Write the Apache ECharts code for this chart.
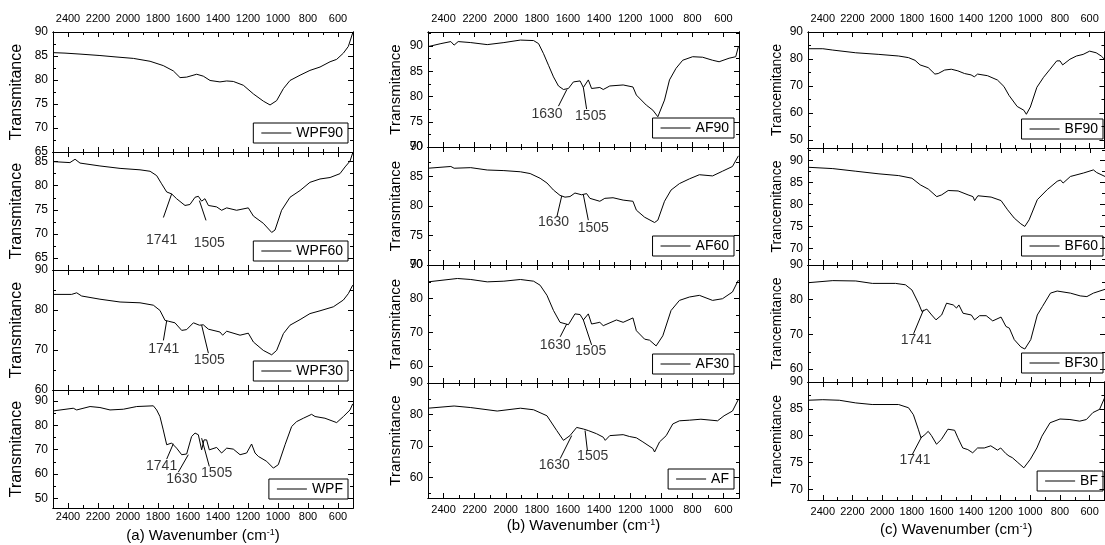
<!DOCTYPE html>
<html>
<head>
<meta charset="utf-8">
<script src="https://cdn.jsdelivr.net/npm/echarts@6/dist/echarts.min.js"></script>
<style>
  html, body { margin: 0; background: #fff; }
  #chart { width: 1105px; height: 545px; }
</style>
</head>
<body>
<div id="chart"></div>
<script>
// wavenumber ticks (cm-1)
const xMajor = [2400, 2200, 2000, 1800, 1600, 1400, 1200, 1000, 800, 600];
const xMinor = [2300, 2100, 1900, 1700, 1500, 1300, 1100, 900, 700];

// spectra: [wavenumber, transmittance]
const wpf90 = [[2500,85.7],[2420,85.6],[2320,85.4],[2187,85.1],[2080,84.8],[1964,84.5],[1853,83.9],[1765,83.0],[1698,81.9],[1653,80.5],[1609,80.6],[1542,81.2],[1498,80.8],[1453,79.9],[1387,79.6],[1376,79.2],[1342,79.8],[1298,79.7],[1231,78.9],[1164,77.1],[1098,75.6],[1053,74.8],[1009,75.7],[964,78.2],[920,79.9],[853,81.0],[787,82.0],[720,82.7],[653,83.8],[609,84.3],[564,85.6],[531,87.0],[502,89.8]];
const wpf60 = [[2500,85.0],[2387,84.8],[2353,85.5],[2320,84.7],[2187,84.1],[2053,83.6],[1920,83.3],[1853,83.0],[1809,82.1],[1776,80.4],[1742,78.7],[1709,78.3],[1676,77.3],[1620,75.9],[1587,76.1],[1553,77.6],[1531,77.8],[1509,76.8],[1487,77.3],[1464,75.9],[1409,75.6],[1376,74.9],[1342,75.4],[1276,74.9],[1198,75.4],[1164,73.7],[1098,72.2],[1042,70.3],[1020,70.8],[976,74.9],[920,77.6],[853,79.0],[787,80.7],[720,81.4],[653,81.7],[587,82.5],[553,83.9],[520,85.1],[502,86.8]];
const wpf30 = [[2500,83.9],[2376,83.9],[2342,84.3],[2309,83.5],[2187,82.7],[2053,82.0],[1920,81.8],[1831,81.2],[1787,79.9],[1753,77.4],[1731,77.2],[1687,76.8],[1642,74.9],[1609,75.1],[1564,76.8],[1524,76.2],[1498,76.3],[1464,75.2],[1387,74.5],[1369,73.7],[1342,74.7],[1253,73.7],[1198,74.2],[1164,72.0],[1098,69.9],[1042,68.8],[1009,69.9],[964,74.1],[920,76.2],[853,77.6],[787,79.1],[720,79.8],[631,80.8],[564,82.5],[531,84.1],[502,86.2]];
const wpf = [[2500,85.9],[2365,87.0],[2342,86.3],[2253,87.7],[2187,87.3],[2120,86.3],[2031,86.6],[1942,87.7],[1831,88.0],[1809,86.3],[1787,83.6],[1765,78.1],[1742,72.0],[1709,72.7],[1676,70.6],[1642,67.9],[1609,68.2],[1576,75.4],[1553,76.8],[1531,76.1],[1509,69.9],[1493,74.0],[1476,74.0],[1458,69.9],[1409,70.9],[1376,68.6],[1342,70.6],[1298,70.2],[1253,67.9],[1209,68.6],[1176,72.3],[1153,68.6],[1131,67.2],[1076,65.2],[1031,62.4],[998,63.8],[953,72.0],[909,79.5],[876,81.5],[831,82.9],[776,84.5],[753,83.6],[687,82.9],[609,81.1],[564,83.6],[520,86.3],[502,88.8]];

const af90 = [[2500,89.9],[2417,90.5],[2353,90.9],[2332,90.2],[2306,90.9],[2225,90.7],[2119,90.3],[2012,90.7],[1906,91.2],[1821,91.1],[1789,90.5],[1757,88.5],[1725,86.2],[1693,83.9],[1661,82.1],[1629,81.4],[1597,81.6],[1565,82.9],[1522,83.1],[1501,81.8],[1469,83.3],[1448,81.6],[1395,81.8],[1373,81.4],[1331,82.1],[1245,82.3],[1182,81.9],[1160,80.3],[1096,78.3],[1054,77.3],[1022,76.0],[979,79.3],[947,83.3],[905,85.6],[862,87.2],[798,87.9],[734,87.8],[670,87.2],[628,86.9],[564,87.6],[521,87.9],[504,89.9]];
const af60 = [[2500,86.4],[2353,86.7],[2332,86.4],[2225,86.5],[2119,86.1],[2012,86.0],[1906,85.8],[1843,85.5],[1779,84.7],[1735,83.9],[1693,82.7],[1651,81.8],[1619,81.5],[1587,81.6],[1555,82.2],[1512,81.9],[1480,82.1],[1459,81.3],[1395,80.8],[1363,81.3],[1310,81.4],[1245,81.0],[1182,80.8],[1160,79.3],[1107,78.1],[1043,77.2],[1022,77.6],[979,80.8],[937,82.7],[883,83.8],[819,84.6],[755,85.3],[670,85.1],[606,85.9],[542,86.7],[504,88.5]];
const af30 = [[2500,85.0],[2311,86.0],[2225,85.7],[2119,85.0],[2012,85.2],[1906,85.7],[1821,85.2],[1779,84.0],[1735,81.0],[1693,76.5],[1651,73.0],[1597,72.3],[1555,75.5],[1522,75.3],[1501,73.7],[1469,75.5],[1448,72.5],[1395,73.0],[1373,72.0],[1288,73.7],[1245,73.0],[1182,74.3],[1160,70.5],[1107,68.0],[1075,67.7],[1033,66.0],[990,69.0],[937,76.5],[883,79.5],[819,80.5],[755,81.0],[670,79.5],[606,80.0],[542,82.0],[504,85.5]];
const af = [[2500,82.0],[2332,82.7],[2225,82.2],[2055,81.1],[1906,82.0],[1821,81.5],[1735,79.6],[1672,74.9],[1629,71.8],[1587,73.3],[1544,75.9],[1501,75.4],[1469,74.9],[1416,73.9],[1373,72.8],[1360,71.8],[1331,73.3],[1245,73.6],[1203,73.0],[1160,72.6],[1118,71.3],[1054,69.2],[1043,68.1],[1011,71.3],[968,73.3],[926,77.0],[883,78.0],[819,78.2],[745,78.5],[638,78.0],[596,79.6],[542,81.1],[504,84.8]];

const bf90 = [[2500,83.8],[2400,83.8],[2333,83.3],[2178,82.3],[2022,81.7],[1889,81.1],[1822,80.5],[1778,79.5],[1744,77.8],[1689,76.8],[1644,74.4],[1622,74.6],[1578,75.9],[1533,76.2],[1489,75.6],[1444,74.6],[1400,74.1],[1378,73.4],[1356,74.4],[1289,73.8],[1222,72.2],[1178,69.8],[1144,66.5],[1089,62.4],[1044,61.0],[1027,59.5],[1000,62.2],[956,69.5],[911,73.2],[867,76.2],[822,79.3],[800,79.3],[782,77.8],[733,79.9],[689,81.1],[644,81.7],[600,82.9],[556,82.3],[522,81.1],[500,79.9]];
const bf60 = [[2500,88.5],[2333,88.2],[2178,87.6],[2022,87.0],[1889,86.6],[1800,86.0],[1744,84.5],[1689,83.5],[1633,81.8],[1600,82.2],[1556,83.2],[1489,83.1],[1422,82.2],[1389,81.8],[1378,80.9],[1356,82.0],[1267,81.7],[1200,80.9],[1156,78.8],[1111,76.9],[1067,75.6],[1040,75.0],[1011,76.5],[956,81.1],[889,83.4],[822,85.3],[800,85.6],[782,84.9],[733,86.4],[644,87.2],[578,87.9],[556,87.3],[500,86.4]];
const bf30 = [[2500,84.9],[2333,85.5],[2178,85.4],[2067,84.7],[1911,84.7],[1844,84.3],[1800,82.8],[1756,79.0],[1733,76.6],[1700,77.3],[1667,75.6],[1638,74.2],[1600,75.6],[1567,79.0],[1522,78.5],[1500,77.6],[1484,78.5],[1456,76.1],[1400,75.6],[1378,74.2],[1344,75.4],[1300,75.4],[1256,73.9],[1200,75.0],[1167,72.3],[1144,71.8],[1111,68.5],[1067,66.4],[1040,65.8],[1000,68.5],[956,75.6],[922,78.0],[867,81.9],[822,82.5],[733,81.9],[667,81.1],[622,80.9],[578,81.9],[500,83.0]];
const bf = [[2500,86.6],[2400,86.7],[2289,86.6],[2178,86.1],[2067,85.8],[1889,85.8],[1822,85.2],[1789,83.9],[1756,81.2],[1738,79.6],[1711,80.2],[1689,80.8],[1667,80.0],[1633,78.4],[1600,79.3],[1556,81.2],[1511,81.0],[1489,79.6],[1456,77.7],[1422,77.4],[1389,76.8],[1356,77.7],[1311,77.7],[1267,78.1],[1222,77.3],[1200,77.7],[1167,76.7],[1144,76.2],[1122,75.9],[1089,75.1],[1044,74.0],[1000,75.6],[956,77.7],[922,79.9],[867,82.4],[800,83.1],[733,83.0],[667,82.7],[622,83.0],[578,84.3],[533,84.9],[500,87.0]];

// peak notes: [text, line start, line end, text centre] in data units
const wpf60Notes = [['1741',[1764,73.4],[1709,78.3],[1776,68.6]], ['1505',[1524,76.9],[1480,72.8],[1458,68.1]]];
const wpf30Notes = [['1741',[1764,72.4],[1742,77.3],[1762,70.3]], ['1505',[1509,76.2],[1464,69.2],[1458,67.5]]];
const wpfNotes = [['1741',[1742,66.1],[1698,72.4],[1776,63.4]], ['1630',[1665,60.7],[1598,67.9],[1642,57.9]], ['1505',[1509,74.7],[1458,63.1],[1409,60.4]]];
const af90Notes = [['1630',[1607,81.4],[1661,78.1],[1735,76.6]], ['1505',[1501,81.8],[1480,77.5],[1454,76.1]]];
const af60Notes = [['1630',[1640,81.7],[1671,78.2],[1693,77.2]], ['1505',[1501,81.9],[1469,77.6],[1437,76.3]]];
const af30Notes = [['1630',[1608,72.5],[1650,68.7],[1682,66.3]], ['1505',[1501,73.7],[1448,66.3],[1454,64.5]]];
const afNotes = [['1630',[1576,73.3],[1650,66.0],[1688,64.0]], ['1505',[1490,74.9],[1475,68.6],[1441,66.8]]];
const bf30Notes = [['1741',[1722,77.1],[1789,70.2],[1771,68.5]]];
const bfNotes = [['1741',[1733,79.8],[1796,76.5],[1778,75.4]]];

// y ranges and labelled ticks per panel
const panels = [
  { name: 'WPF90', data: wpf90, col: 0, row: 0, range: [65, 90], ticks: [65, 70, 75, 80, 85, 90], notes: [] },
  { name: 'WPF60', data: wpf60, col: 0, row: 1, range: [62.5, 87], ticks: [65, 70, 75, 80, 85], notes: wpf60Notes },
  { name: 'WPF30', data: wpf30, col: 0, row: 2, range: [60, 90], ticks: [60, 70, 80, 90], notes: wpf30Notes },
  { name: 'WPF', data: wpf, col: 0, row: 3, range: [46, 94.5], ticks: [50, 60, 70, 80, 90], notes: wpfNotes },
  { name: 'AF90', data: af90, col: 1, row: 0, range: [70, 92.8], ticks: [70, 75, 80, 85, 90], notes: af90Notes },
  { name: 'AF60', data: af60, col: 1, row: 1, range: [70, 90], ticks: [70, 75, 80, 85, 90], notes: af60Notes },
  { name: 'AF30', data: af30, col: 1, row: 2, range: [55, 90], ticks: [60, 70, 80, 90], notes: af30Notes },
  { name: 'AF', data: af, col: 1, row: 3, range: [53.5, 90], ticks: [60, 70, 80, 90], notes: afNotes },
  { name: 'BF90', data: bf90, col: 2, row: 0, range: [47, 90], ticks: [50, 60, 70, 80, 90], notes: [] },
  { name: 'BF60', data: bf60, col: 2, row: 1, range: [66.2, 92.9], ticks: [70, 75, 80, 85, 90], notes: [] },
  { name: 'BF30', data: bf30, col: 2, row: 2, range: [56.3, 90], ticks: [60, 70, 80, 90], notes: bf30Notes },
  { name: 'BF', data: bf, col: 2, row: 3, range: [68, 90], ticks: [70, 75, 80, 85, 90], notes: bfNotes }
];

// page layout of the three columns
const W = 1105, H = 545;
const cols = [
  { left: 53, width: 300, rows: [32, 152, 270, 390, 508], yName: 'Transmitance', ySize: 16, yGap: 28, xName: '(a) Wavenumber (cm{s|-1})', xGap: 20, botMargin: 3 },
  { left: 428, width: 311, rows: [32, 147, 265, 383, 498], yName: 'Transmitance', ySize: 15, yGap: 25, xName: '(b) Wavenumber (cm{s|-1})', xGap: 20, botMargin: 6 },
  { left: 808, width: 300, rows: [32, 148, 265, 382, 500], yName: 'Trancemitance', ySize: 14, yGap: 24, xName: '(c) Wavenumber (cm{s|-1})', xGap: 22, botMargin: 6 }
];

const FONT = '"Liberation Sans", Arial, sans-serif';
const plain = v => String(v);

function minorOf(ticks, range) {
  const step = ticks.length > 1 ? ticks[1] - ticks[0] : 5;
  const out = [];
  for (let v = ticks[0] - step / 2; v <= range[1] + 1e-6; v += step) {
    if (v >= range[0] - 1e-6) out.push(v);
  }
  return out;
}

function label(show, ticks, margin, size) {
  return { show: show, customValues: ticks, formatter: plain, hideOverlap: false, showMinLabel: true, showMaxLabel: true,
    color: '#000', fontSize: size || 12, fontFamily: FONT, margin: margin };
}

function xAxis(gi, pos, ticks, len, labels, extra) {
  return Object.assign({
    type: 'value', gridIndex: gi, position: pos, min: 500, max: 2500, inverse: true,
    axisLine: { show: true, onZero: false, lineStyle: { color: '#000', width: 1 } },
    axisTick: { show: true, inside: true, length: len, customValues: ticks, lineStyle: { color: '#000', width: 1 } },
    axisLabel: label(labels, ticks, pos === 'top' ? 8 : 4, 11),
    splitLine: { show: false }
  }, extra || {});
}

function yAxis(gi, pos, range, ticks, len, labels, extra) {
  return Object.assign({
    type: 'value', gridIndex: gi, position: pos, min: range[0], max: range[1],
    axisLine: { show: true, onZero: false, lineStyle: { color: '#000', width: 1 } },
    axisTick: { show: true, inside: true, length: len, customValues: ticks, lineStyle: { color: '#000', width: 1 } },
    axisLabel: label(labels, ticks, 5, 12),
    splitLine: { show: false }
  }, extra || {});
}

const grids = [], xAxes = [], yAxes = [], series = [], legends = [];

panels.forEach((p, gi) => {
  const c = cols[p.col];
  const top = c.rows[p.row], bottom = c.rows[p.row + 1];
  grids.push({ left: c.left, top: top, width: c.width, height: bottom - top });

  const xb = xAxes.length;
  const xNameOpt = p.row === 3 ? {
    name: c.xName, nameLocation: 'middle', nameGap: c.xGap,
    nameTextStyle: { color: '#000', fontSize: 15, fontFamily: FONT,
      rich: { s: { fontSize: 9, verticalAlign: 'top', lineHeight: 9, padding: [0, 0, 7, 0] } } }
  } : {};
  xAxes.push(xAxis(gi, 'bottom', xMajor, 5, p.row === 3, Object.assign({}, xNameOpt, {
    axisLabel: label(p.row === 3, xMajor, c.botMargin, 11)
  })));
  xAxes.push(xAxis(gi, 'bottom', xMinor, 3, false));
  xAxes.push(xAxis(gi, 'top', xMajor, 5, p.row === 0));
  xAxes.push(xAxis(gi, 'top', xMinor, 3, false));

  const yb = yAxes.length;
  const minor = minorOf(p.ticks, p.range);
  yAxes.push(yAxis(gi, 'left', p.range, p.ticks, 5, true, {
    name: c.yName, nameLocation: 'middle', nameGap: c.yGap,
    nameTextStyle: { color: '#000', fontSize: c.ySize, fontFamily: FONT }
  }));
  yAxes.push(yAxis(gi, 'left', p.range, minor, 3, false));
  yAxes.push(yAxis(gi, 'right', p.range, p.ticks, 5, false));
  yAxes.push(yAxis(gi, 'right', p.range, minor, 3, false));

  series.push({
    type: 'line', name: p.name, xAxisIndex: xb, yAxisIndex: yb,
    data: p.data, showSymbol: false, symbol: 'none', color: '#000',
    lineStyle: { color: '#000', width: 1 }, animation: false,
    markLine: {
      silent: true, symbol: 'none', animation: false,
      label: { show: false },
      lineStyle: { color: '#000', width: 1, type: 'solid' },
      data: p.notes.map(n => [{ coord: n[1] }, { coord: n[2] }])
    }
  });
  if (p.notes.length) {
    series.push({
      type: 'scatter', name: p.name + '-notes', xAxisIndex: xb, yAxisIndex: yb,
      symbolSize: 0, silent: true, animation: false,
      data: p.notes.map(n => ({ name: n[0], value: n[3] })),
      label: { show: true, position: 'inside', formatter: '{b}', color: '#000', fontSize: 14, fontFamily: FONT }
    });
  }

  legends.push({
    data: [p.name], selectedMode: false,
    right: Math.max(W - (c.left + c.width) + 5, 2), bottom: H - bottom + 9,
    icon: 'rect', itemWidth: 30, itemHeight: 1, itemGap: 0,
    padding: [3, 5, 3, 8], borderColor: '#000', borderWidth: 1, borderRadius: 0,
    textStyle: { color: '#000', fontSize: 14, fontFamily: FONT }
  });
});

const chart = echarts.init(document.getElementById('chart'));
chart.setOption({
  animation: false,
  backgroundColor: '#fff',
  textStyle: { fontFamily: FONT },
  grid: grids,
  xAxis: xAxes,
  yAxis: yAxes,
  legend: legends,
  series: series
});
</script>
</body>
</html>
